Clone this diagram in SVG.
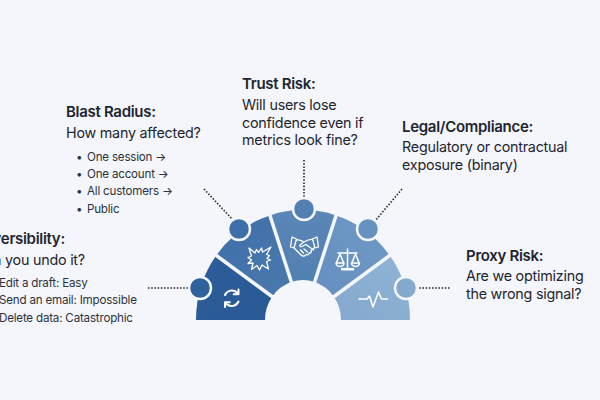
<svg xmlns="http://www.w3.org/2000/svg" width="600" height="400" viewBox="0 0 600 400">
<style>
text{font-family:Inter,"Liberation Sans",sans-serif;fill:#1d2530}
.h{font-size:15px;font-weight:600;letter-spacing:-.3px}
.s{font-size:14.300px;letter-spacing:-.22px}
.b{font-size:11.600px;letter-spacing:-.2px;fill:#2b3340}
.dot{stroke:#2a3038;stroke-width:1.6;stroke-dasharray:1.6 1.6;fill:none}
.sep{stroke:#f4f6fb;stroke-width:3.500;fill:none}
.n{stroke:#f4f6fb;stroke-width:2.500}
.i{fill:none;stroke:#fff;stroke-width:1.300;stroke-linecap:round;stroke-linejoin:round}
</style>
<defs>
<linearGradient id="g1" x1="0" y1="0" x2="1" y2="1"><stop offset="0" stop-color="#2c5d9a"/><stop offset="1" stop-color="#2a5a95"/></linearGradient>
<linearGradient id="g2" x1="0" y1="0" x2="1" y2="1"><stop offset="0" stop-color="#3f6fa8"/><stop offset="1" stop-color="#4a79ae"/></linearGradient>
<linearGradient id="g3" x1="0" y1="0" x2="0" y2="1"><stop offset="0" stop-color="#5b86b6"/><stop offset="1" stop-color="#5080b2"/></linearGradient>
<linearGradient id="g4" x1="1" y1="0" x2="0" y2="1"><stop offset="0" stop-color="#7099c5"/><stop offset="1" stop-color="#648fbf"/></linearGradient>
<linearGradient id="g5" x1="1" y1="0" x2="0" y2="1"><stop offset="0" stop-color="#90b3d5"/><stop offset="1" stop-color="#84a9ce"/></linearGradient>
</defs>
<rect width="600" height="400" fill="#f4f6fb"/>
<g id="connectors">
<path class="dot" d="M148 288H188"/>
<path class="dot" d="M204 189L233 220"/>
<path class="dot" d="M304 160V197"/>
<path class="dot" d="M402 189L375 221"/>
<path class="dot" d="M416 288H451"/>
</g>
<g id="node-reversibility">
<path fill="url(#g1)" d="M196 320A107 110 0 0 1 216.400 255.300L272.300 296.500A38 40 0 0 0 265 320Z"/>
<path class="i" style="stroke-width:2" d="M225 295a7.500 7.500 0 0 1 12-2.500l1.500 1.500M238.500 289.500v4.800h-4.800M238.500 301.500a7.500 7.500 0 0 1-12 2.500l-1.500-1.500M225 307v-4.800h4.800"/>
<text class="h" x="-25" y="244">Reversibility:</text>
<text class="s" x="-25" y="265">Can you undo it?</text>
<text class="b" x="-1" y="287">Edit a draft: Easy</text>
<text class="b" x="-1" y="304">Send an email: Impossible</text>
<text class="b" x="-1" y="322">Delete data: Catastrophic</text>
</g>
<g id="node-blast">
<path fill="url(#g2)" d="M216.400 255.300A107 110 0 0 1 269.900 215.400L291.300 282A38 40 0 0 0 272.300 296.500Z"/>
<path class="i" d="M249 248l6 5 1.500-3.500 2 3 3-4.500 1 4 8.500-5-4.500 7.500 3 1-2.500 3 3.500 1.500-4 1.500 2 7.500-6.500-4-2.500 5-2.500-4.500-5.500 4 1.500-6.500-5 .5 3.500-3.500-3.500-2.500 3.500-1.500-1-3z"/>
<text class="h" x="66" y="117">Blast Radius:</text>
<text class="s" x="66" y="138">How many affected?</text>
<text class="b" y="161"><tspan x="76">•</tspan><tspan x="87">One session →</tspan></text>
<text class="b" y="178"><tspan x="76">•</tspan><tspan x="87">One account →</tspan></text>
<text class="b" y="195"><tspan x="76">•</tspan><tspan x="87">All customers →</tspan></text>
<text class="b" y="213"><tspan x="76">•</tspan><tspan x="87">Public</tspan></text>
</g>
<g id="node-trust">
<path fill="url(#g3)" d="M269.900 215.400A107 110 0 0 1 336.100 215.400L314.700 282A38 40 0 0 0 291.300 282Z"/>
<path class="i" d="M292 237l-1.500 10 3.500 1 2.500-9zM317 237l1.500 10-3.500 1-2.500-9zM296.500 240c3-.5 5 .5 7.500 2l-4 3c-1 1 1 2.500 3 1l3-1.500 7.500 5.500M312.500 239.500c-3-.5-5 .5-8.500 2.500M294 248l6.500 6.500c1.500 1.500 3.500 2 4.500 1l1.500-1c1.500 1 3-.5 2.500-1.500 1.500.5 3-1 2-2.500l3-2.500M300.500 250l3 3M304 249l3.500 3"/>
<text class="h" x="242" y="89">Trust Risk:</text>
<text class="s" x="242" y="110">Will users lose</text>
<text class="s" x="242" y="128">confidence even if</text>
<text class="s" x="242" y="145">metrics look fine?</text>
</g>
<g id="node-legal">
<path fill="url(#g4)" d="M336.100 215.400A107 110 0 0 1 389.600 255.300L333.700 296.500A38 40 0 0 0 314.700 282Z"/>
<path class="i" style="stroke-width:1.500" d="M347.500 249v20M338 253h19M340 254l-3.500 8.500M340 254l3.500 8.500M355.500 254l-3.500 8.500M355.500 254l3.500 8.500M336 263a4 3.500 0 0 0 8 0zM351.500 263a4 3.500 0 0 0 8 0z"/>
<path fill="#fff" d="M341 268h13v2.500h-13z"/>
<text class="h" x="402" y="132">Legal/Compliance:</text>
<text class="s" x="402" y="152">Regulatory or contractual</text>
<text class="s" x="402" y="170">exposure (binary)</text>
</g>
<g id="node-proxy">
<path fill="url(#g5)" d="M389.600 255.300A107 110 0 0 1 410 320H341A38 40 0 0 0 333.700 296.500Z"/>
<path class="i" style="stroke-width:1.500" d="M359 299h8l2.500-3 3.500 11 5.500-15 3 7h6"/>
<text class="h" x="466" y="261">Proxy Risk:</text>
<text class="s" x="466" y="281">Are we optimizing</text>
<text class="s" x="466" y="299">the wrong signal?</text>
</g>
<g id="separators">
<path class="sep" d="M213 253L274 298M268.500 211L292 284M337.500 211L314 284M393 253L332 298"/>
</g>
<g id="markers">
<circle class="n" cx="200" cy="288" r="11" fill="#2f619c"/>
<circle class="n" cx="239" cy="229" r="11" fill="#3f6fa8"/>
<circle class="n" cx="304" cy="209" r="11" fill="#5280b3"/>
<circle class="n" cx="368" cy="229" r="11" fill="#6791c0"/>
<circle class="n" cx="406" cy="288" r="11" fill="#84a9ce"/>
</g>
</svg>
